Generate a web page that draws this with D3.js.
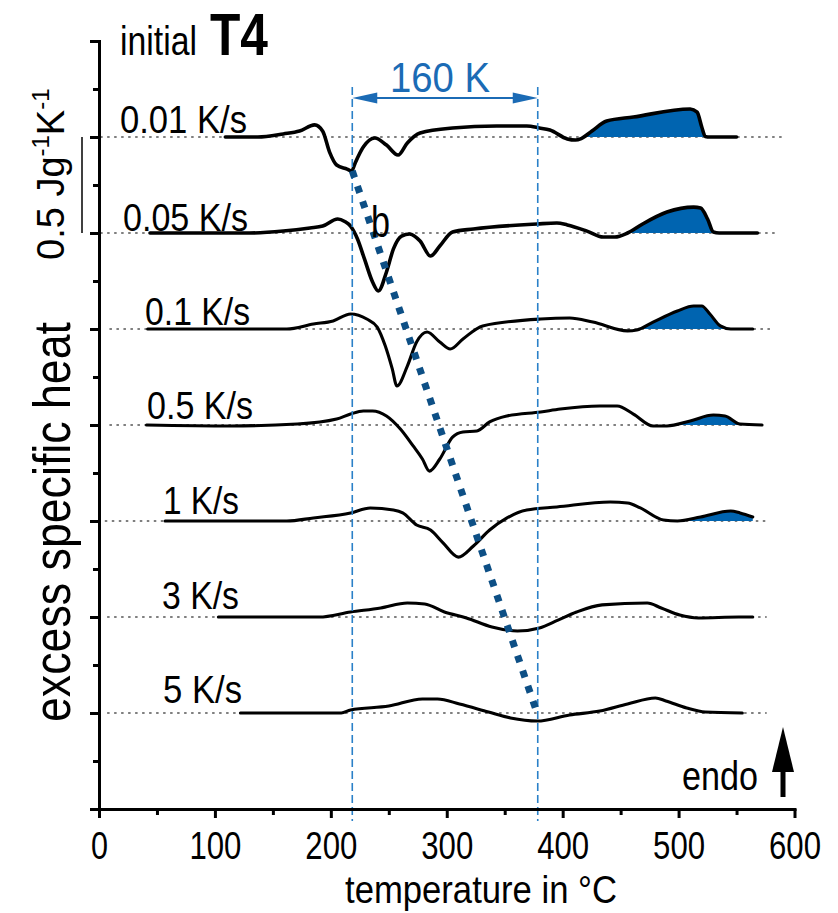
<!DOCTYPE html>
<html>
<head>
<meta charset="utf-8">
<script src="https://cdn.jsdelivr.net/npm/d3@7"></script>
<style>
  body { margin: 0; background: #fff; }
  svg { display: block; }
  text { font-family: "Liberation Sans", Arial, sans-serif; fill: #000; }
</style>
</head>
<body>
<svg id="chart" width="838" height="913"></svg>
<script>
// Heating rates, their vertical offsets (J g^-1 K^-1) and axis ticks
const rateLabels = ["0.01 K/s", "0.05 K/s", "0.1 K/s", "0.5 K/s", "1 K/s", "3 K/s", "5 K/s"];
const offsets = [3.5, 3.0, 2.5, 2.0, 1.5, 1.0, 0.5];
const xTicks = [0, 100, 200, 300, 400, 500, 600];
const xMinorTicks = [50, 150, 250, 350, 450, 550];
const yTicks = [0, 0.5, 1, 1.5, 2, 2.5, 3, 3.5, 4];
const yMinorTicks = [0.25, 0.75, 1.25, 1.75, 2.25, 2.75, 3.25, 3.75];

// Temperature extent of each zero line (°C)
const zeroLineRanges = [[1, 590], [1, 586], [9, 579], [9, 576], [5, 576], [7, 576], [7, 576]];
// Temperature window of the shaded endothermic dissolution peak
const peakRanges = [[420, 560], [450, 570], [460, 570], [490, 580], [490, 580], null, null];

// Shift of the precipitation minimum between the slowest and fastest rates
const shiftStart = 218.5;   // °C
const shiftK = 160;         // K
const shiftEnd = shiftStart + shiftK;
const shiftDepths = [3.5 - 0.177, 0.5 - 0.01];

// Excess specific heat curves [temperature °C, c_p excess J g^-1 K^-1]
const cp001 = [[109,0],[137,0],[159,0.016],[173,0.031],[186,0.063],[193,0.03],[199,-0.08],[205,-0.146],[214,-0.167],[218,-0.177],[221,-0.135],[228,-0.052],[238,-0.005],[248,-0.042],[258,-0.094],[266,-0.031],[277,0.021],[305,0.047],[343,0.057],[369,0.057],[380,0.047],[389,0.036],[404,-0.010],[411,-0.016],[416,-0.008],[425,0.03],[438,0.083],[461,0.104],[510,0.146],[516,0.13],[520,0.052],[523,0.003],[527,0],[550,0]];
const cp005 = [[44,0],[130,0],[159,0.010],[182,0.026],[193,0.036],[206,0.073],[212,0.06],[217,0.036],[223,-0.031],[229,-0.135],[236,-0.255],[241,-0.302],[248,-0.203],[254,-0.083],[261,-0.016],[268,-0.005],[277,-0.042],[286,-0.120],[294,-0.068],[305,0.005],[323,0.021],[378,0.047],[395,0.052],[404,0.042],[421,0.010],[435,-0.021],[445,-0.021],[456,0],[469,0.047],[490,0.109],[513,0.135],[519,0.130],[525,0.073],[530,0.005],[535,0],[568,0]];
const cp01 = [[42,0],[107,0],[162,0],[185,0.026],[202,0.042],[217,0.078],[231,0.052],[240,0.010],[247,-0.089],[253,-0.208],[257,-0.297],[266,-0.193],[274,-0.068],[283,-0.016],[294,-0.068],[303,-0.104],[314,-0.052],[331,0.016],[381,0.052],[406,0.057],[426,0.036],[456,-0.010],[464,-0.005],[478,0.036],[499,0.094],[513,0.120],[520,0.120],[527,0.078],[536,0.016],[545,0],[564,0]];
const cp05 = [[41,0],[113,-0.005],[171,0.005],[205,0.031],[217,0.057],[228,0.073],[236,0.073],[248,0.047],[260,-0.021],[271,-0.109],[279,-0.177],[285,-0.240],[294,-0.177],[305,-0.063],[314,-0.036],[326,-0.031],[337,0.016],[352,0.047],[381,0.068],[398,0.083],[432,0.099],[447,0.099],[461,0.057],[478,-0.005],[490,-0.005],[510,0.021],[530,0.052],[540,0.047],[553,0.005],[572,0]];
const cp1 = [[57,0],[115,0],[162,0],[185,0.016],[217,0.042],[234,0.068],[254,0.057],[262,0.042],[274,-0.021],[286,-0.047],[297,-0.115],[310,-0.188],[323,-0.130],[337,-0.047],[352,0.016],[369,0.057],[395,0.073],[441,0.099],[456,0.094],[467,0.068],[487,0.005],[499,0],[519,0.021],[545,0.052],[553,0.042],[564,0.021]];
const cp3 = [[103,0],[190,0],[217,0.026],[243,0.047],[266,0.073],[281,0.068],[298,0.026],[317,-0.005],[339,-0.052],[361,-0.073],[380,-0.057],[396,-0.016],[412,0.026],[434,0.063],[473,0.073],[485,0.047],[501,0.010],[517,-0.005],[552,0],[564,0]];
const cp5 = [[122,0],[209,0],[217,0.016],[250,0.036],[279,0.073],[292,0.073],[311,0.047],[336,0.005],[355,-0.026],[378,-0.042],[406,-0.010],[432,0.010],[456,0.047],[480,0.078],[489,0.063],[507,0.026],[523,0.005],[555,0]];
const curves = [cp001, cp005, cp01, cp05, cp1, cp3, cp5];

const BLUE_FILL = "#0064b0";
const BLUE_LINE = "#2a80c8";
const BLUE_TEXT = "#1b6bb5";
const BLUE_DOTS = "#0d4f85";

const svg = d3.select("#chart");
const x = d3.scaleLinear().domain([0, 600]).range([99, 794.5]);
const y = d3.scaleLinear().domain([0, 4]).range([809, 41]);

function addText(parent, str, px, py, size, len, opts = {}) {
  const t = parent.append("text")
    .attr("x", px).attr("y", py)
    .attr("font-size", size)
    .text(str);
  if (len) t.attr("textLength", len).attr("lengthAdjust", "spacingAndGlyphs");
  if (opts.weight) t.attr("font-weight", opts.weight);
  if (opts.fill) t.style("fill", opts.fill);
  if (opts.anchor) t.attr("text-anchor", opts.anchor);
  return t;
}

// Zero lines of each trace
const zeroG = svg.append("g");
offsets.forEach((off, i) => {
  zeroG.append("line")
    .attr("x1", x(zeroLineRanges[i][0])).attr("x2", x(zeroLineRanges[i][1]))
    .attr("y1", y(off)).attr("y2", y(off))
    .attr("stroke", "#555").attr("stroke-width", 1.3)
    .attr("stroke-dasharray", "2.5,4.5");
});

// Shaded dissolution peaks (only the part above the zero line)
const defs = svg.append("defs");
const fillG = svg.append("g");
curves.forEach((data, i) => {
  const r = peakRanges[i];
  if (!r) return;
  const id = "peakclip" + i;
  defs.append("clipPath").attr("id", id).append("rect")
    .attr("x", x(r[0])).attr("width", x(r[1]) - x(r[0]))
    .attr("y", 0).attr("height", y(offsets[i]));
  const area = d3.area()
    .x(d => x(d[0]))
    .y0(y(offsets[i]))
    .y1(d => y(offsets[i] + d[1]))
    .curve(d3.curveMonotoneX);
  fillG.append("path")
    .attr("d", area(data))
    .attr("fill", BLUE_FILL)
    .attr("clip-path", `url(#${id})`);
});

// Traces
const lineG = svg.append("g");
curves.forEach((data, i) => {
  const line = d3.line()
    .x(d => x(d[0]))
    .y(d => y(offsets[i] + d[1]))
    .curve(d3.curveMonotoneX);
  lineG.append("path")
    .attr("d", line(data))
    .attr("fill", "none")
    .attr("stroke", "#000")
    .attr("stroke-width", i < 2 ? 3.6 : 3.1)
    .attr("stroke-linejoin", "round")
    .attr("stroke-linecap", "round");
});

// Vertical markers of the shift interval
[shiftStart, shiftEnd].forEach(t => {
  svg.append("line")
    .attr("x1", x(t)).attr("x2", x(t))
    .attr("y1", 87).attr("y2", 821)
    .attr("stroke", BLUE_LINE).attr("stroke-width", 1.6)
    .attr("stroke-dasharray", "8,4");
});

// Double arrow with the shift value
const arrowY = 98, headL = 25, headW = 5.5;
const xa = x(shiftStart), xb = x(shiftEnd);
svg.append("line").attr("x1", xa + 10).attr("x2", xb - 10)
  .attr("y1", arrowY).attr("y2", arrowY)
  .attr("stroke", BLUE_TEXT).attr("stroke-width", 2.2);
svg.append("polygon")
  .attr("points", `${xa},${arrowY} ${xa + headL},${arrowY - headW} ${xa + headL},${arrowY + headW}`)
  .attr("fill", BLUE_TEXT);
svg.append("polygon")
  .attr("points", `${xb},${arrowY} ${xb - headL},${arrowY - headW} ${xb - headL},${arrowY + headW}`)
  .attr("fill", BLUE_TEXT);
addText(svg, shiftK + " K", 390, 92, 42, 100, { fill: BLUE_TEXT });

// Trend of the precipitation minimum
svg.append("line")
  .attr("x1", x(shiftStart)).attr("y1", y(shiftDepths[0]))
  .attr("x2", x(shiftEnd)).attr("y2", y(shiftDepths[1]))
  .attr("stroke", BLUE_DOTS).attr("stroke-width", 7)
  .attr("stroke-dasharray", "7,9");

// Axes
const axG = svg.append("g");
const xMinor = axG.append("g").attr("transform", `translate(0,${y(0)})`)
  .call(d3.axisBottom(x).tickValues(xMinorTicks).tickSize(6).tickFormat(""));
xMinor.select(".domain").remove();
const xMajor = axG.append("g").attr("transform", `translate(0,${y(0)})`)
  .call(d3.axisBottom(x).tickValues(xTicks).tickSize(9).tickSizeOuter(0));
xMajor.selectAll(".tick text")
  .attr("y", 50).attr("dy", 0)
  .attr("font-size", 39)
  .attr("textLength", d => d === 0 ? 17 : 52)
  .attr("lengthAdjust", "spacingAndGlyphs")
  .attr("font-family", null);
const yMinor = axG.append("g").attr("transform", `translate(${x(0)},0)`)
  .call(d3.axisLeft(y).tickValues(yMinorTicks).tickSize(6).tickFormat(""));
yMinor.select(".domain").remove();
const yMajor = axG.append("g").attr("transform", `translate(${x(0)},0)`)
  .call(d3.axisLeft(y).tickValues(yTicks).tickSize(9).tickSizeOuter(0).tickFormat(""));
axG.selectAll(".domain").attr("stroke-width", 3).attr("stroke-linecap", "square");
axG.selectAll(".tick line").attr("stroke-width", 3);

// Scale bar for 0.5 J g^-1 K^-1
svg.append("line")
  .attr("x1", 82).attr("x2", 82)
  .attr("y1", y(offsets[0])).attr("y2", y(offsets[0] - 0.5))
  .attr("stroke", "#000").attr("stroke-width", 1.5);

// Labels
addText(svg, "initial", 120, 55, 41, 77);
addText(svg, "T4", 210, 55, 60, 58, { weight: "bold" });

const rateLabelPos = [[120, 133, 127], [123, 231, 125], [145, 325, 105], [147, 419, 106], [163, 514, 76], [162, 609, 77], [163, 703, 79]];
rateLabels.forEach((s, i) => {
  const p = rateLabelPos[i];
  addText(svg, s, p[0], p[1], 38, p[2]);
});

addText(svg, "b", 371, 237, 44, 19);
addText(svg, "endo", 682, 790, 41, 76);

// endo arrow
svg.append("rect").attr("x", 780.5).attr("y", 765).attr("width", 5).attr("height", 32).attr("fill", "#000");
svg.append("polygon").attr("points", "783,727 772,772 794,772").attr("fill", "#000");

addText(svg, "temperature in °C", 345, 903, 38, 272);

// Rotated y labels
svg.append("text")
  .attr("transform", "translate(70,722) rotate(-90)")
  .attr("font-size", 52)
  .attr("textLength", 400)
  .attr("lengthAdjust", "spacingAndGlyphs")
  .text("excess specific heat");

const unit = svg.append("text")
  .attr("transform", "translate(64,260) rotate(-90)")
  .attr("font-size", 38);
unit.append("tspan").text("0.5  Jg");
unit.append("tspan").attr("font-size", 24).attr("dy", -15).text("-1");
unit.append("tspan").attr("dy", 15).text("K");
unit.append("tspan").attr("font-size", 24).attr("dy", -15).text("-1");
</script>
</body>
</html>
